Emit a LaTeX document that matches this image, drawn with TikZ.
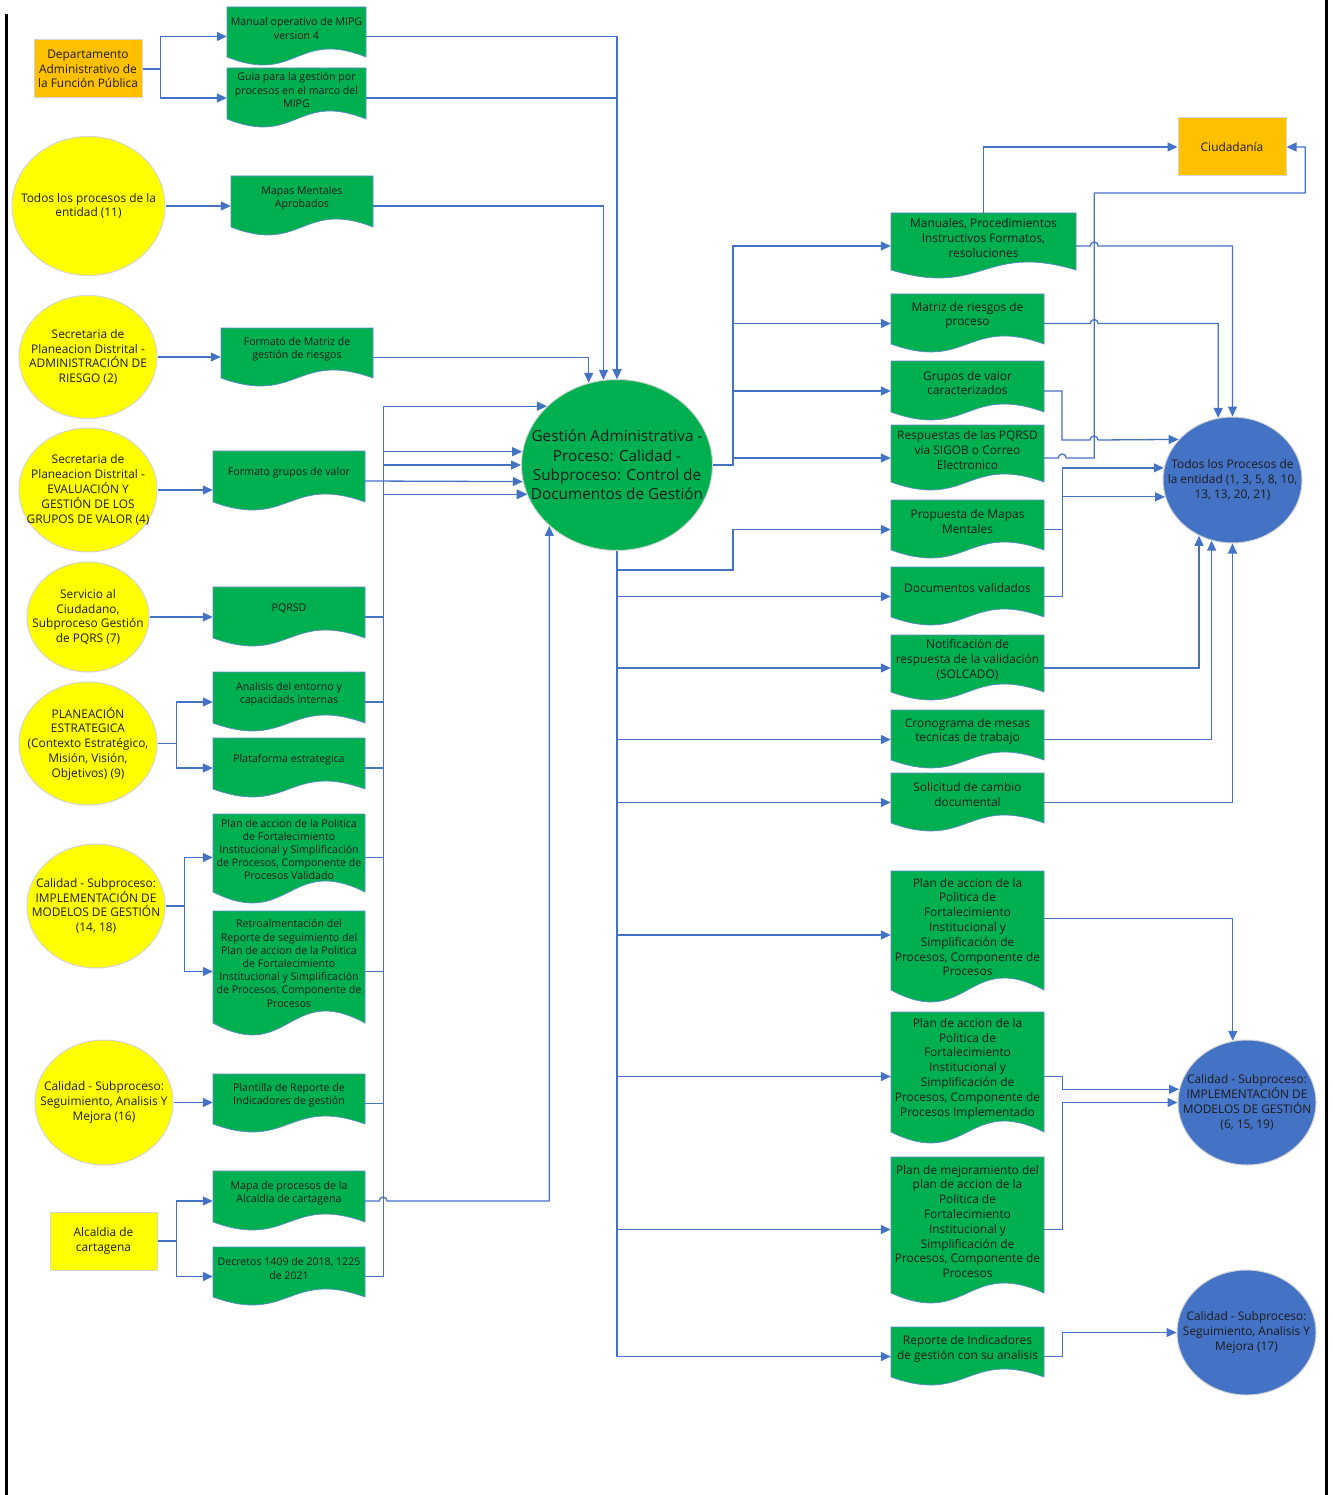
\documentclass[tikz,border=0pt]{standalone}
\usepackage{fontspec}
\setmainfont{Open Sans}
\usetikzlibrary{shapes.geometric, arrows.meta}

\definecolor{docgreen}{HTML}{00B050}
\definecolor{srcyellow}{HTML}{FFFF00}
\definecolor{srcorange}{HTML}{FFC000}
\definecolor{procblue}{HTML}{4472C4}
\definecolor{flowblue}{HTML}{4472C4}
\definecolor{rimgray}{HTML}{D4D4D4}
\definecolor{txtdark}{HTML}{1C1C1C}

\newcommand{\fsmall}{\fontsize{10.6pt}{13.2pt}\selectfont}
\newcommand{\fmid}{\fontsize{11.9pt}{14.8pt}\selectfont}
\newcommand{\fbig}{\fontsize{15.3pt}{19.3pt}\selectfont}

\tikzset{
  flow/.style={draw=flowblue, line width=1.3pt, -{Triangle[length=10pt,width=9pt]}},
  srcell/.style={ellipse, fill=srcyellow, draw=rimgray, line width=1pt, inner sep=0pt},
  procell/.style={ellipse, fill=procblue, draw=rimgray, line width=1pt, inner sep=0pt},
  srcbox/.style={rectangle, draw=rimgray, line width=1pt, inner sep=1pt, align=center, text=txtdark, font=\fmid},
  docshape/.style={fill=docgreen, draw=flowblue!85, line width=0.7pt},
  docfit/.style={rectangle, inner sep=0pt, draw=none},
  smalltxt/.style={align=center, inner sep=0pt, text=txtdark, font=\fsmall},
  midtxt/.style={align=center, inner sep=0pt, text=txtdark, font=\fmid},
  bigtxt/.style={align=center, inner sep=0pt, text=txtdark, font=\fbig},
  hop/.style={start angle=180, end angle=0, radius=4pt}
}

% document symbol: [wave] name, x1, y1, x2, y2 (right corner), text style, text
\newcommand{\docnode}[8][8]{%
  \filldraw[docshape] (#3,#4) -- (#5,#4) -- (#5,#6)
    .. controls ({(#3+#5)/2},{#6-3.46*#1}) and ({(#3+#5)/2},{#6+3.46*#1}) .. (#3,#6) -- cycle;
  \node[docfit, minimum width={#5-#3}, minimum height={#6+9-#4}] (#2) at ({(#3+#5)/2},{(#4+#6+9)/2}) {};
  \node[#7] (#2t) at ({(#3+#5)/2},{(#4+#6)/2-3.5}) {#8};
}

\begin{document}
\begin{tikzpicture}[x=1pt, y=-1pt]
  \useasboundingbox (0,0) rectangle (1332,1495);

  % page frame
  \draw[line width=3pt] (6,14) -- (6,1495);
  \draw[line width=3pt] (1326,0) -- (1326,1495);

  % Sources (left)
  \node[srcbox, fill=srcorange, minimum width=108, minimum height=58] (dafp) at (88,69) {Departamento\\Administrativo de\\la Función Pública};
  \node[srcell, minimum width=153, minimum height=139] (todos) at (88.5,206) {};
  \node[midtxt] (todost) at (todos) {Todos los procesos de la\\entidad (11)};
  \node[srcell, minimum width=138, minimum height=123] (sar) at (88,357) {};
  \node[midtxt] (sart) at (sar) {Secretaria de\\Planeacion Distrital -\\ADMINISTRACIÓN DE\\RIESGO (2)};
  \node[srcell, minimum width=138, minimum height=124] (sev) at (88,490) {};
  \node[midtxt] (sevt) at (sev) {Secretaria de\\Planeacion Distrital -\\EVALUACIÓN Y\\GESTIÓN DE LOS\\GRUPOS DE VALOR (4)};
  \node[srcell, minimum width=122, minimum height=110] (sac) at (88,617) {};
  \node[midtxt] (sact) at (sac) {Servicio al\\Ciudadano,\\Subproceso Gestión\\de PQRS (7)};
  \node[srcell, minimum width=138, minimum height=123] (pe) at (88,743.5) {};
  \node[midtxt] (pet) at (pe) {PLANEACIÓN\\ESTRATEGICA\\(Contexto Estratégico,\\Misión, Visión,\\Objetivos) (9)};
  \node[srcell, minimum width=138, minimum height=124] (cimp) at (96,906) {};
  \node[midtxt] (cimpt) at (cimp) {Calidad - Subproceso:\\IMPLEMENTACIÓN DE\\MODELOS DE GESTIÓN\\(14, 18)};
  \node[srcell, minimum width=138, minimum height=125] (cseg) at (104,1102.5) {};
  \node[midtxt] (csegt) at (cseg) {Calidad - Subproceso:\\Seguimiento, Analisis Y\\Mejora (16)};
  \node[srcbox, fill=srcyellow, minimum width=107, minimum height=58] (alc) at (103.5,1241) {Alcaldia de\\cartagena};

  % Input documents
  \docnode{A}{227}{7}{366}{57}{smalltxt}{Manual operativo de MIPG\\version 4}
  \docnode{B}{227}{68}{366}{119}{smalltxt}{Guia para la gestión por\\procesos en el marco del\\MIPG}
  \docnode{C}{231}{176}{373}{227}{smalltxt}{Mapas Mentales\\Aprobados}
  \docnode{D}{221}{328}{373}{378}{smalltxt}{Formato de Matriz de\\gestión de riesgos}
  \docnode{E}{213}{451}{365}{502}{smalltxt}{Formato grupos de valor}
  \docnode{F}{213}{587}{365}{638}{smalltxt}{PQRSD}
  \docnode{G}{213}{672}{365}{723}{smalltxt}{Analisis del entorno y\\capacidads internas}
  \docnode{H}{213}{738}{365}{789}{smalltxt}{Plataforma estrategica}
  \docnode[11]{I}{213}{814}{365}{892}{smalltxt}{Plan de accion de la Politica\\de Fortalecimiento\\Institucional y Simplificación\\de Procesos, Componente de\\Procesos Validado}
  \docnode[12]{J}{213}{911}{365}{1023}{smalltxt}{Retroalmentación del\\Reporte de seguimiento del\\Plan de accion de la Politica\\de Fortalecimiento\\Institucional y Simplificación\\de Procesos, Componente de\\Procesos}
  \docnode{K}{213}{1074}{365}{1124}{smalltxt}{Plantilla de Reporte de\\Indicadores de gestión}
  \docnode{L}{213}{1171}{365}{1222}{smalltxt}{Mapa de procesos de la\\Alcaldia de cartagena}
  \docnode{M}{213}{1247}{365}{1297}{smalltxt}{Decretos 1409 de 2018, 1225\\de 2021}

  % Central process
  \node[ellipse, fill=docgreen, draw=rimgray, line width=1pt, inner sep=0pt, minimum width=191, minimum height=171] (cen) at (617,465) {};
  \node[bigtxt] (cent) at (cen) {Gestión Administrativa -\\Proceso: Calidad -\\Subproceso: Control de\\Documentos de Gestión};

  % Output documents
  \docnode{R1}{891}{213}{1076}{270}{midtxt}{Manuales, Procedimientos\\Instructivos Formatos,\\resoluciones}
  \docnode{R2}{891}{294}{1044}{344}{midtxt}{Matriz de riesgos de\\proceso}
  \docnode{R3}{891}{361}{1044}{412}{midtxt}{Grupos de valor\\caracterizados}
  \docnode{R4}{891}{425}{1044}{482}{midtxt}{Respuestas de las PQRSD\\via SIGOB o Correo\\Electronico}
  \docnode{R5}{891}{500}{1044}{550}{midtxt}{Propuesta de Mapas\\Mentales}
  \docnode{R6}{891}{567}{1044}{617}{midtxt}{Documentos validados}
  \docnode{R7}{891}{635}{1044}{692}{midtxt}{Notificación de\\respuesta de la validación\\(SOLCADO)}
  \docnode{R8}{891}{710}{1044}{760}{midtxt}{Cronograma de mesas\\tecnicas de trabajo}
  \docnode{R9}{891}{773}{1044}{823}{midtxt}{Solicitud de cambio\\documental}
  \docnode[12]{R10}{891}{871}{1044}{990}{midtxt}{Plan de accion de la\\Politica de\\Fortalecimiento\\Institucional y\\Simplificación de\\Procesos, Componente de\\Procesos}
  \docnode[11]{R11}{891}{1012}{1044}{1132}{midtxt}{Plan de accion de la\\Politica de\\Fortalecimiento\\Institucional y\\Simplificación de\\Procesos, Componente de\\Procesos Implementado}
  \docnode[10]{R12}{891}{1157}{1044}{1293}{midtxt}{Plan de mejoramiento del\\plan de accion de la\\Politica de\\Fortalecimiento\\Institucional y\\Simplificación de\\Procesos, Componente de\\Procesos}
  \docnode{R13}{891}{1327}{1044}{1377}{midtxt}{Reporte de Indicadores\\de gestión con su analisis}

  % Receivers (right)
  \node[srcbox, fill=srcorange, minimum width=108, minimum height=58] (ciud) at (1232,147) {Ciudadanía};
  \node[procell, minimum width=139, minimum height=126] (ents) at (1232.5,480) {};
  \node[midtxt] (entst) at (ents) {Todos los Procesos de\\la entidad (1, 3, 5, 8, 10,\\13, 13, 20, 21)};
  \node[procell, minimum width=138, minimum height=125] (impl) at (1247,1102.5) {};
  \node[midtxt] (implt) at (impl) {Calidad - Subproceso:\\IMPLEMENTACIÓN DE\\MODELOS DE GESTIÓN\\(6, 15, 19)};
  \node[procell, minimum width=139, minimum height=125] (segr) at (1246.5,1332.5) {};
  \node[midtxt] (segrt) at (segr) {Calidad - Subproceso:\\Seguimiento, Analisis Y\\Mejora (17)};

  % Sources to input documents
  \draw[flow] (dafp.east) -- ++(18,0) |- (A.west);
  \draw[flow] (dafp.east) -- ++(18,0) |- (B.west);
  \draw[flow] (todos.east) -- (todos.east -| C.west);
  \draw[flow] (sar.east) -- (sar.east -| D.west);
  \draw[flow] (sev.east) -- (sev.east -| E.west);
  \draw[flow] (sac.east) -- (sac.east -| F.west);
  \draw[flow] (pe.east) -- ++(19,0) |- (G.west);
  \draw[flow] (pe.east) -- ++(19,0) |- (H.west);
  \draw[flow] (cimp.east) -- ++(19,0) |- (I.west);
  \draw[flow] (cimp.east) -- ++(19,0) |- (J.west);
  \draw[flow] (cseg.east) -- (cseg.east -| K.west);
  \draw[flow] (alc.east) -- ++(19,0) |- (L.west);
  \draw[flow] (alc.east) -- ++(19,0) |- (M.west);

  % Input documents to central process
  \draw[flow] (A.east) -| (cen.north);
  \draw[flow] (B.east) -| (cen.north);
  \draw[flow] (C.east) -| (cen.99);
  \draw[flow] (D.east) -| (cen.109);
  \draw[flow] (E.east) -- (cen.190);
  \draw[flow] (F.east) -- ++(18,0) |- (cen.140);
  \draw[flow] (G.east) -- ++(18,0) |- (cen.172);
  \draw[flow] (H.east) -- ++(18,0) |- (cen.west);
  \draw[flow] (I.east) -- ++(18,0) |- (cen.198);
  \draw[flow] (J.east) -- ++(18,0) |- (cen.198);
  \draw[flow] (K.east) -- ++(18,0) |- (cen.198);
  \draw[flow] (M.east) -- ++(18,0) |- (cen.198);
  \draw[flow] (L.east) -- ++(14,0) arc[hop] -| (cen.222);

  % Central process to output documents
  \draw[flow] (cen.east) -- ++(20,0) |- (R1.west);
  \draw[flow] (cen.east) -- ++(20,0) |- (R2.west);
  \draw[flow] (cen.east) -- ++(20,0) |- (R3.west);
  \draw[flow] (cen.east) -- ++(20,0) |- (R4.west);
  \coordinate (bend) at (733,570);
  \draw[flow] (cen.south) |- (bend) |- (R5.west);
  \foreach \r in {R6,R7,R8,R9,R10,R11,R12,R13}
    \draw[flow] (cen.south) |- (\r.west);

  % Output documents to receivers
  \draw[flow] (R1.north) |- (ciud.west);
  \draw[flow] (R1.east) -- ++(14,0) arc[hop] -| (ents.north);
  \draw[flow] (R2.east) -- ++(46,0) arc[hop] -| (ents.103);
  \coordinate (hub) at (1062,440);
  \draw[flow] (R3.east) -| (hub) -- ++(28,0) arc[hop] -- (ents.143);
  \draw[flow] (R5.east) -- ++(18,0) |- (ents.170);
  \draw[flow] (R6.east) -- ++(18,0) |- (ents.194);
  \draw[flow] (R4.east) -- ++(14,0) arc[hop] -- ++(28,0) -- ++(0,-265) -- ++(211,0) |- (ciud.east);
  \draw[flow] (R7.east) -| (ents.239);
  \draw[flow] (R8.east) -| (ents.251);
  \draw[flow] (R9.east) -| (ents.south);
  \draw[flow] (R10.12) -| (impl.103);
  \draw[flow] (R11.east) -- ++(18,0) |- (impl.169);
  \draw[flow] (R12.east) -- ++(18,0) |- (impl.west);
  \draw[flow] (R13.east) -- ++(18,0) |- (segr.west);
\end{tikzpicture}
\end{document}
